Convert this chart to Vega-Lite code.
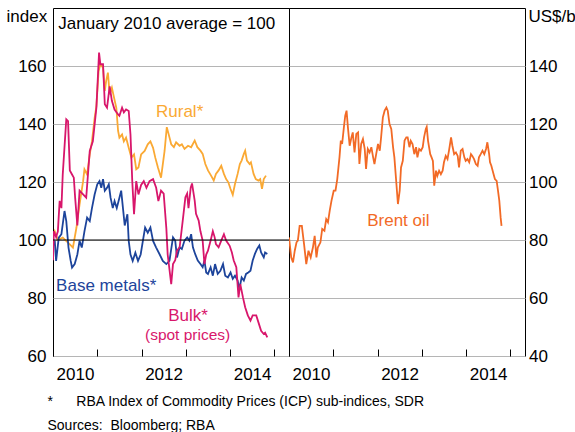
{
  "$schema": "https://vega.github.io/schema/vega-lite/v6.json",
  "padding": {"left": 5, "top": 7, "right": 0, "bottom": 2},
  "spacing": 0,
  "bounds": "flush",
  "config": {
    "font": "Liberation Sans",
    "view": {"stroke": "#000", "strokeWidth": 1},
    "axis": {"labelFont": "Liberation Sans", "labelFontSize": 17, "labelColor": "#000", "titleFont": "Liberation Sans", "titleFontSize": 17, "titleFontWeight": "normal", "titleColor": "#000", "domain": false, "gridColor": "#b5b5b5", "gridWidth": 1, "tickColor": "#000"},
    "concat": {"spacing": 0}
  },
  "title": {
    "text": ["*\u00a0\u00a0\u00a0\u00a0\u00a0\u00a0RBA Index of Commodity Prices (ICP) sub-indices, SDR", "Sources:\u00a0\u00a0Bloomberg; RBA"],
    "orient": "bottom", "anchor": "start", "frame": "bounds",
    "font": "Liberation Sans", "fontSize": 14, "fontWeight": "normal", "color": "#000",
    "lineHeight": 24, "offset": 12, "dx": 42
  },
  "datasets": {
    "indices": [
      {"s":"Rural*","t":2010.00,"v":101},{"s":"Rural*","t":2010.04,"v":103},{"s":"Rural*","t":2010.11,"v":100},{"s":"Rural*","t":2010.22,"v":100.8},{"s":"Rural*","t":2010.38,"v":98.5},{"s":"Rural*","t":2010.45,"v":97.4},{"s":"Rural*","t":2010.53,"v":104.3},{"s":"Rural*","t":2010.60,"v":112.3},{"s":"Rural*","t":2010.68,"v":120.3},{"s":"Rural*","t":2010.71,"v":124.4},{"s":"Rural*","t":2010.77,"v":122.6},{"s":"Rural*","t":2010.83,"v":129.5},{"s":"Rural*","t":2010.88,"v":134},{"s":"Rural*","t":2010.94,"v":142},{"s":"Rural*","t":2010.98,"v":146.2},{"s":"Rural*","t":2011.03,"v":158.3},{"s":"Rural*","t":2011.07,"v":160.6},{"s":"Rural*","t":2011.13,"v":159.4},{"s":"Rural*","t":2011.17,"v":151.4},{"s":"Rural*","t":2011.20,"v":154.8},{"s":"Rural*","t":2011.24,"v":157.7},{"s":"Rural*","t":2011.28,"v":150.2},{"s":"Rural*","t":2011.33,"v":152.5},{"s":"Rural*","t":2011.38,"v":149},{"s":"Rural*","t":2011.43,"v":145.6},{"s":"Rural*","t":2011.47,"v":137.6},{"s":"Rural*","t":2011.50,"v":135.3},{"s":"Rural*","t":2011.56,"v":136.4},{"s":"Rural*","t":2011.60,"v":134},{"s":"Rural*","t":2011.65,"v":135.3},{"s":"Rural*","t":2011.71,"v":131.8},{"s":"Rural*","t":2011.77,"v":128.4},{"s":"Rural*","t":2011.83,"v":129.5},{"s":"Rural*","t":2011.88,"v":124.4},{"s":"Rural*","t":2011.93,"v":125},{"s":"Rural*","t":2011.99,"v":129.5},{"s":"Rural*","t":2012.07,"v":130.7},{"s":"Rural*","t":2012.14,"v":133},{"s":"Rural*","t":2012.20,"v":134},{"s":"Rural*","t":2012.26,"v":131.8},{"s":"Rural*","t":2012.31,"v":128.4},{"s":"Rural*","t":2012.37,"v":125},{"s":"Rural*","t":2012.44,"v":121.5},{"s":"Rural*","t":2012.52,"v":130.7},{"s":"Rural*","t":2012.57,"v":138.9},{"s":"Rural*","t":2012.61,"v":136.6},{"s":"Rural*","t":2012.67,"v":133},{"s":"Rural*","t":2012.73,"v":132},{"s":"Rural*","t":2012.78,"v":133.7},{"s":"Rural*","t":2012.86,"v":132.5},{"s":"Rural*","t":2012.91,"v":133},{"s":"Rural*","t":2012.97,"v":131.4},{"s":"Rural*","t":2013.05,"v":132.5},{"s":"Rural*","t":2013.12,"v":132},{"s":"Rural*","t":2013.20,"v":134.3},{"s":"Rural*","t":2013.26,"v":132},{"s":"Rural*","t":2013.33,"v":130.8},{"s":"Rural*","t":2013.38,"v":129.7},{"s":"Rural*","t":2013.44,"v":126.2},{"s":"Rural*","t":2013.50,"v":124},{"s":"Rural*","t":2013.57,"v":122.2},{"s":"Rural*","t":2013.63,"v":120.5},{"s":"Rural*","t":2013.68,"v":122.8},{"s":"Rural*","t":2013.74,"v":124},{"s":"Rural*","t":2013.80,"v":125.6},{"s":"Rural*","t":2013.86,"v":122.8},{"s":"Rural*","t":2013.91,"v":121},{"s":"Rural*","t":2013.96,"v":119.9},{"s":"Rural*","t":2014.01,"v":117.6},{"s":"Rural*","t":2014.06,"v":115.6},{"s":"Rural*","t":2014.11,"v":119.3},{"s":"Rural*","t":2014.17,"v":122.8},{"s":"Rural*","t":2014.22,"v":126.2},{"s":"Rural*","t":2014.26,"v":127.4},{"s":"Rural*","t":2014.31,"v":129.7},{"s":"Rural*","t":2014.34,"v":130.8},{"s":"Rural*","t":2014.38,"v":127.4},{"s":"Rural*","t":2014.44,"v":126.2},{"s":"Rural*","t":2014.47,"v":126.8},{"s":"Rural*","t":2014.53,"v":122.8},{"s":"Rural*","t":2014.58,"v":121},{"s":"Rural*","t":2014.64,"v":120.5},{"s":"Rural*","t":2014.68,"v":121},{"s":"Rural*","t":2014.72,"v":117.6},{"s":"Rural*","t":2014.76,"v":121},{"s":"Rural*","t":2014.81,"v":122.2},
      {"s":"Base metals*","t":2010.00,"v":98},{"s":"Base metals*","t":2010.04,"v":99.7},{"s":"Base metals*","t":2010.07,"v":92.8},{"s":"Base metals*","t":2010.13,"v":100.8},{"s":"Base metals*","t":2010.19,"v":102},{"s":"Base metals*","t":2010.26,"v":110},{"s":"Base metals*","t":2010.30,"v":106.5},{"s":"Base metals*","t":2010.35,"v":97.4},{"s":"Base metals*","t":2010.40,"v":92.8},{"s":"Base metals*","t":2010.43,"v":90.5},{"s":"Base metals*","t":2010.49,"v":91.7},{"s":"Base metals*","t":2010.55,"v":95},{"s":"Base metals*","t":2010.60,"v":99.7},{"s":"Base metals*","t":2010.65,"v":97.4},{"s":"Base metals*","t":2010.71,"v":103},{"s":"Base metals*","t":2010.77,"v":107.7},{"s":"Base metals*","t":2010.83,"v":106.5},{"s":"Base metals*","t":2010.88,"v":111},{"s":"Base metals*","t":2010.94,"v":115.7},{"s":"Base metals*","t":2011.00,"v":119.2},{"s":"Base metals*","t":2011.05,"v":120.3},{"s":"Base metals*","t":2011.09,"v":118},{"s":"Base metals*","t":2011.13,"v":121},{"s":"Base metals*","t":2011.17,"v":117},{"s":"Base metals*","t":2011.22,"v":118},{"s":"Base metals*","t":2011.26,"v":119.2},{"s":"Base metals*","t":2011.30,"v":114.6},{"s":"Base metals*","t":2011.35,"v":111},{"s":"Base metals*","t":2011.39,"v":113.4},{"s":"Base metals*","t":2011.44,"v":111},{"s":"Base metals*","t":2011.50,"v":114.6},{"s":"Base metals*","t":2011.54,"v":117},{"s":"Base metals*","t":2011.58,"v":111},{"s":"Base metals*","t":2011.62,"v":105},{"s":"Base metals*","t":2011.68,"v":108.9},{"s":"Base metals*","t":2011.71,"v":99.7},{"s":"Base metals*","t":2011.75,"v":95},{"s":"Base metals*","t":2011.80,"v":92.8},{"s":"Base metals*","t":2011.86,"v":95.6},{"s":"Base metals*","t":2011.92,"v":92.8},{"s":"Base metals*","t":2011.98,"v":95},{"s":"Base metals*","t":2012.03,"v":99.7},{"s":"Base metals*","t":2012.08,"v":104.3},{"s":"Base metals*","t":2012.14,"v":102.5},{"s":"Base metals*","t":2012.20,"v":104.3},{"s":"Base metals*","t":2012.26,"v":99.7},{"s":"Base metals*","t":2012.33,"v":97.4},{"s":"Base metals*","t":2012.41,"v":95},{"s":"Base metals*","t":2012.48,"v":92.8},{"s":"Base metals*","t":2012.56,"v":91.7},{"s":"Base metals*","t":2012.63,"v":92.8},{"s":"Base metals*","t":2012.71,"v":100.9},{"s":"Base metals*","t":2012.76,"v":99.8},{"s":"Base metals*","t":2012.80,"v":94},{"s":"Base metals*","t":2012.86,"v":97.5},{"s":"Base metals*","t":2012.91,"v":96.9},{"s":"Base metals*","t":2012.97,"v":99.8},{"s":"Base metals*","t":2013.03,"v":100.9},{"s":"Base metals*","t":2013.08,"v":99.8},{"s":"Base metals*","t":2013.12,"v":102},{"s":"Base metals*","t":2013.16,"v":97.5},{"s":"Base metals*","t":2013.21,"v":95.2},{"s":"Base metals*","t":2013.27,"v":92.9},{"s":"Base metals*","t":2013.33,"v":91.7},{"s":"Base metals*","t":2013.38,"v":90.6},{"s":"Base metals*","t":2013.42,"v":92.9},{"s":"Base metals*","t":2013.46,"v":88.8},{"s":"Base metals*","t":2013.50,"v":88.3},{"s":"Base metals*","t":2013.56,"v":90.6},{"s":"Base metals*","t":2013.61,"v":87.7},{"s":"Base metals*","t":2013.66,"v":91.7},{"s":"Base metals*","t":2013.72,"v":88.3},{"s":"Base metals*","t":2013.78,"v":89.4},{"s":"Base metals*","t":2013.84,"v":91.7},{"s":"Base metals*","t":2013.89,"v":87.7},{"s":"Base metals*","t":2013.95,"v":87.1},{"s":"Base metals*","t":2014.01,"v":88.8},{"s":"Base metals*","t":2014.06,"v":86.6},{"s":"Base metals*","t":2014.11,"v":87.7},{"s":"Base metals*","t":2014.17,"v":86},{"s":"Base metals*","t":2014.21,"v":83.1},{"s":"Base metals*","t":2014.26,"v":87.1},{"s":"Base metals*","t":2014.31,"v":86},{"s":"Base metals*","t":2014.36,"v":88.3},{"s":"Base metals*","t":2014.41,"v":88.8},{"s":"Base metals*","t":2014.46,"v":89.4},{"s":"Base metals*","t":2014.51,"v":92.9},{"s":"Base metals*","t":2014.56,"v":95.2},{"s":"Base metals*","t":2014.61,"v":96.9},{"s":"Base metals*","t":2014.66,"v":98.1},{"s":"Base metals*","t":2014.70,"v":95.7},{"s":"Base metals*","t":2014.76,"v":94},{"s":"Base metals*","t":2014.79,"v":95.7},{"s":"Base metals*","t":2014.84,"v":95.2},
      {"s":"Bulk*","t":2010.00,"v":93},{"s":"Bulk*","t":2010.02,"v":103},{"s":"Bulk*","t":2010.07,"v":101},{"s":"Bulk*","t":2010.11,"v":103},{"s":"Bulk*","t":2010.15,"v":113.5},{"s":"Bulk*","t":2010.19,"v":111},{"s":"Bulk*","t":2010.22,"v":122.6},{"s":"Bulk*","t":2010.30,"v":141.6},{"s":"Bulk*","t":2010.34,"v":141},{"s":"Bulk*","t":2010.38,"v":124},{"s":"Bulk*","t":2010.43,"v":122.6},{"s":"Bulk*","t":2010.47,"v":121.5},{"s":"Bulk*","t":2010.50,"v":114.6},{"s":"Bulk*","t":2010.55,"v":105},{"s":"Bulk*","t":2010.60,"v":117},{"s":"Bulk*","t":2010.68,"v":115.7},{"s":"Bulk*","t":2010.75,"v":114.6},{"s":"Bulk*","t":2010.83,"v":130.7},{"s":"Bulk*","t":2010.90,"v":134},{"s":"Bulk*","t":2010.98,"v":145.6},{"s":"Bulk*","t":2011.04,"v":164.6},{"s":"Bulk*","t":2011.07,"v":160.6},{"s":"Bulk*","t":2011.13,"v":160.6},{"s":"Bulk*","t":2011.17,"v":146.8},{"s":"Bulk*","t":2011.22,"v":145.6},{"s":"Bulk*","t":2011.28,"v":153},{"s":"Bulk*","t":2011.33,"v":148},{"s":"Bulk*","t":2011.39,"v":145},{"s":"Bulk*","t":2011.47,"v":143.3},{"s":"Bulk*","t":2011.50,"v":142.8},{"s":"Bulk*","t":2011.56,"v":145.6},{"s":"Bulk*","t":2011.60,"v":144},{"s":"Bulk*","t":2011.65,"v":145},{"s":"Bulk*","t":2011.71,"v":144.5},{"s":"Bulk*","t":2011.75,"v":136.4},{"s":"Bulk*","t":2011.79,"v":120.3},{"s":"Bulk*","t":2011.83,"v":108.9},{"s":"Bulk*","t":2011.88,"v":120.3},{"s":"Bulk*","t":2011.93,"v":115.7},{"s":"Bulk*","t":2011.99,"v":119},{"s":"Bulk*","t":2012.05,"v":120.3},{"s":"Bulk*","t":2012.11,"v":118},{"s":"Bulk*","t":2012.18,"v":120.3},{"s":"Bulk*","t":2012.26,"v":121},{"s":"Bulk*","t":2012.33,"v":118},{"s":"Bulk*","t":2012.38,"v":113.4},{"s":"Bulk*","t":2012.44,"v":117},{"s":"Bulk*","t":2012.50,"v":116},{"s":"Bulk*","t":2012.56,"v":104},{"s":"Bulk*","t":2012.59,"v":95},{"s":"Bulk*","t":2012.67,"v":84.8},{"s":"Bulk*","t":2012.71,"v":91.7},{"s":"Bulk*","t":2012.76,"v":93},{"s":"Bulk*","t":2012.80,"v":96.3},{"s":"Bulk*","t":2012.86,"v":97.5},{"s":"Bulk*","t":2012.93,"v":106.7},{"s":"Bulk*","t":2012.99,"v":114.7},{"s":"Bulk*","t":2013.03,"v":116},{"s":"Bulk*","t":2013.06,"v":111},{"s":"Bulk*","t":2013.11,"v":118},{"s":"Bulk*","t":2013.14,"v":119.5},{"s":"Bulk*","t":2013.20,"v":113.6},{"s":"Bulk*","t":2013.23,"v":109},{"s":"Bulk*","t":2013.29,"v":106.7},{"s":"Bulk*","t":2013.33,"v":103},{"s":"Bulk*","t":2013.38,"v":99.8},{"s":"Bulk*","t":2013.42,"v":91.7},{"s":"Bulk*","t":2013.46,"v":95},{"s":"Bulk*","t":2013.50,"v":96.3},{"s":"Bulk*","t":2013.56,"v":99.8},{"s":"Bulk*","t":2013.61,"v":103},{"s":"Bulk*","t":2013.65,"v":101},{"s":"Bulk*","t":2013.68,"v":98.6},{"s":"Bulk*","t":2013.74,"v":97.5},{"s":"Bulk*","t":2013.80,"v":99.8},{"s":"Bulk*","t":2013.86,"v":102},{"s":"Bulk*","t":2013.91,"v":99.8},{"s":"Bulk*","t":2013.99,"v":98},{"s":"Bulk*","t":2014.04,"v":95.7},{"s":"Bulk*","t":2014.08,"v":93},{"s":"Bulk*","t":2014.14,"v":90.6},{"s":"Bulk*","t":2014.19,"v":80.2},{"s":"Bulk*","t":2014.23,"v":84.8},{"s":"Bulk*","t":2014.29,"v":80.2},{"s":"Bulk*","t":2014.34,"v":76.8},{"s":"Bulk*","t":2014.40,"v":74},{"s":"Bulk*","t":2014.46,"v":72.2},{"s":"Bulk*","t":2014.51,"v":74},{"s":"Bulk*","t":2014.59,"v":74},{"s":"Bulk*","t":2014.64,"v":71.6},{"s":"Bulk*","t":2014.70,"v":68.7},{"s":"Bulk*","t":2014.76,"v":67.6},{"s":"Bulk*","t":2014.79,"v":68},{"s":"Bulk*","t":2014.84,"v":66.4}
    ],
    "oil": [
      {"t":2010.00,"v":80.9},{"t":2010.05,"v":74},{"t":2010.09,"v":72.3},{"t":2010.13,"v":76.3},{"t":2010.17,"v":79.2},{"t":2010.20,"v":79.8},{"t":2010.24,"v":84.9},{"t":2010.29,"v":84.9},{"t":2010.34,"v":78.6},{"t":2010.39,"v":71.7},{"t":2010.44,"v":76.3},{"t":2010.49,"v":74},{"t":2010.54,"v":77.4},{"t":2010.58,"v":81.4},{"t":2010.62,"v":74},{"t":2010.65,"v":77.4},{"t":2010.71,"v":79.2},{"t":2010.75,"v":83.8},{"t":2010.80,"v":83.2},{"t":2010.84,"v":87.2},{"t":2010.88,"v":86.1},{"t":2010.92,"v":90.1},{"t":2010.96,"v":93.6},{"t":2011.01,"v":97},{"t":2011.05,"v":97},{"t":2011.09,"v":101},{"t":2011.14,"v":108.5},{"t":2011.17,"v":114.3},{"t":2011.20,"v":113.1},{"t":2011.24,"v":118.9},{"t":2011.27,"v":122.9},{"t":2011.30,"v":124.6},{"t":2011.33,"v":118.9},{"t":2011.37,"v":112.5},{"t":2011.41,"v":115.4},{"t":2011.44,"v":117.1},{"t":2011.48,"v":110.2},{"t":2011.52,"v":116.6},{"t":2011.56,"v":117.1},{"t":2011.59,"v":106.2},{"t":2011.63,"v":113.1},{"t":2011.67,"v":114.8},{"t":2011.71,"v":111.4},{"t":2011.74,"v":104.5},{"t":2011.78,"v":111.4},{"t":2011.82,"v":110.2},{"t":2011.86,"v":112},{"t":2011.90,"v":108.5},{"t":2011.93,"v":106.2},{"t":2011.97,"v":109.7},{"t":2012.01,"v":113.1},{"t":2012.05,"v":110.8},{"t":2012.08,"v":115.4},{"t":2012.12,"v":122.3},{"t":2012.16,"v":124.6},{"t":2012.20,"v":125.7},{"t":2012.23,"v":124.6},{"t":2012.27,"v":120},{"t":2012.31,"v":118.3},{"t":2012.35,"v":112},{"t":2012.38,"v":108.5},{"t":2012.42,"v":100.5},{"t":2012.46,"v":92.4},{"t":2012.50,"v":97},{"t":2012.53,"v":105},{"t":2012.57,"v":107.3},{"t":2012.61,"v":114.3},{"t":2012.65,"v":115.4},{"t":2012.68,"v":115.4},{"t":2012.72,"v":112},{"t":2012.75,"v":114.2},{"t":2012.79,"v":113.1},{"t":2012.83,"v":109.6},{"t":2012.87,"v":112},{"t":2012.90,"v":108.5},{"t":2012.94,"v":111.4},{"t":2012.98,"v":110.8},{"t":2013.02,"v":112},{"t":2013.05,"v":115.4},{"t":2013.09,"v":118.3},{"t":2013.11,"v":119},{"t":2013.14,"v":114.2},{"t":2013.19,"v":109.6},{"t":2013.22,"v":108.5},{"t":2013.25,"v":107.3},{"t":2013.28,"v":98.7},{"t":2013.32,"v":103.9},{"t":2013.35,"v":102.1},{"t":2013.39,"v":103.9},{"t":2013.43,"v":102.7},{"t":2013.47,"v":103.9},{"t":2013.50,"v":106.8},{"t":2013.54,"v":109},{"t":2013.58,"v":107.9},{"t":2013.62,"v":111.4},{"t":2013.66,"v":115.4},{"t":2013.69,"v":112.5},{"t":2013.73,"v":109.6},{"t":2013.77,"v":110.2},{"t":2013.81,"v":109},{"t":2013.84,"v":105},{"t":2013.88,"v":110.8},{"t":2013.92,"v":111.4},{"t":2013.96,"v":108.5},{"t":2013.99,"v":107.3},{"t":2014.03,"v":107.9},{"t":2014.07,"v":106.8},{"t":2014.11,"v":109.6},{"t":2014.14,"v":109},{"t":2014.18,"v":107.9},{"t":2014.22,"v":106.2},{"t":2014.26,"v":105.6},{"t":2014.29,"v":108.5},{"t":2014.33,"v":109.6},{"t":2014.37,"v":110.8},{"t":2014.41,"v":109.6},{"t":2014.45,"v":111.4},{"t":2014.48,"v":113.7},{"t":2014.52,"v":109.6},{"t":2014.54,"v":106.8},{"t":2014.57,"v":105.6},{"t":2014.61,"v":103.3},{"t":2014.65,"v":101},{"t":2014.69,"v":100.4},{"t":2014.72,"v":97},{"t":2014.75,"v":93.5},{"t":2014.78,"v":87.7},{"t":2014.80,"v":84.9}
    ]
  },
  "hconcat": [
    {
      "width": 236,
      "height": 348,
      "resolve": {"scale": {"x": "shared"}, "axis": {"x": "independent"}},
      "layer": [
        {
          "data": {"name": "indices"},
          "mark": {"type": "line", "strokeWidth": 1.8, "clip": true},
          "encoding": {
            "x": {"field": "t", "type": "quantitative", "scale": {"domain": [2010, 2015.33], "nice": false, "zero": false},
              "axis": {"orient": "bottom", "values": [2010, 2012, 2014], "labelExpr": "format(datum.value, 'd')", "labelOffset": 22, "ticks": false, "labelPadding": 10, "grid": false, "title": null, "labelFlush": false, "labelOverlap": false, "labelBound": false}},
            "y": {"field": "v", "type": "quantitative", "scale": {"domain": [60, 180], "nice": false, "zero": false},
              "axis": {"values": [60, 80, 100, 120, 140, 160], "ticks": false, "labelPadding": 7, "grid": true, "title": "index", "titleAngle": 0, "titleX": -47, "titleY": 13.5, "titleAlign": "left", "titleBaseline": "alphabetic"}},
            "color": {"field": "s", "type": "nominal", "scale": {"domain": ["Rural*", "Base metals*", "Bulk*"], "range": ["#FAA934", "#1D449B", "#D8166B"]}, "legend": null}
          }
        },
        {"data": {"values": [{}]}, "mark": {"type": "rule", "color": "#000", "strokeWidth": 1}, "encoding": {"y": {"datum": 100}}},
        {"data": {"values": [{}]}, "mark": {"type": "text", "align": "left", "baseline": "middle", "fontSize": 17, "color": "#000"},
          "encoding": {
            "x": {"datum": 2010.12, "type": "quantitative", "axis": {"orient": "bottom", "values": [2010, 2011, 2012, 2013, 2014, 2015], "labels": false, "ticks": true, "tickSize": 7, "offset": -7, "grid": false, "domain": false, "title": null}},
            "y": {"datum": 174.4},
            "text": {"value": "January 2010 average = 100"}}},
        {"data": {"values": [{}]}, "mark": {"type": "text", "align": "center", "baseline": "middle", "fontSize": 17, "color": "#FAA934"}, "encoding": {"x": {"datum": 2012.86, "axis": null}, "y": {"datum": 144.2}, "text": {"value": "Rural*"}}},
        {"data": {"values": [{}]}, "mark": {"type": "text", "align": "left", "baseline": "middle", "fontSize": 17, "color": "#1D449B"}, "encoding": {"x": {"datum": 2010.07, "axis": null}, "y": {"datum": 84.2}, "text": {"value": "Base metals*"}}},
        {"data": {"values": [{}]}, "mark": {"type": "text", "align": "center", "baseline": "middle", "fontSize": 17, "color": "#D8166B"}, "encoding": {"x": {"datum": 2013.05, "axis": null}, "y": {"datum": 73.9}, "text": {"value": "Bulk*"}}},
        {"data": {"values": [{}]}, "mark": {"type": "text", "align": "center", "baseline": "middle", "fontSize": 15.5, "color": "#D8166B"}, "encoding": {"x": {"datum": 2013.04, "axis": null}, "y": {"datum": 67.4}, "text": {"value": "(spot prices)"}}}
      ]
    },
    {
      "width": 236,
      "height": 348,
      "resolve": {"scale": {"x": "shared"}, "axis": {"x": "independent"}},
      "layer": [
        {
          "data": {"name": "oil"},
          "mark": {"type": "line", "strokeWidth": 1.8, "color": "#F26A26", "clip": true},
          "encoding": {
            "x": {"field": "t", "type": "quantitative", "scale": {"domain": [2010, 2015.33], "nice": false, "zero": false},
              "axis": {"orient": "bottom", "values": [2010, 2012, 2014], "labelExpr": "format(datum.value, 'd')", "labelOffset": 22, "ticks": false, "labelPadding": 10, "grid": false, "title": null, "labelFlush": false, "labelOverlap": false, "labelBound": false}},
            "y": {"field": "v", "type": "quantitative", "scale": {"domain": [40, 160], "nice": false, "zero": false},
              "axis": {"orient": "right", "values": [40, 60, 80, 100, 120, 140], "ticks": false, "labelPadding": 3.5, "grid": true, "title": "US$/b", "titleAngle": 0, "titleX": 3, "titleY": 13.5, "titleAlign": "left", "titleBaseline": "alphabetic"}}
          }
        },
        {"data": {"values": [{}]}, "mark": {"type": "text", "align": "center", "baseline": "middle", "fontSize": 17, "color": "#F26A26"},
          "encoding": {
            "x": {"datum": 2012.47, "type": "quantitative", "axis": {"orient": "bottom", "values": [2010, 2011, 2012, 2013, 2014, 2015], "labels": false, "ticks": true, "tickSize": 7, "offset": -7, "grid": false, "domain": false, "title": null}},
            "y": {"datum": 86.4},
            "text": {"value": "Brent oil"}}}
      ]
    }
  ]
}
